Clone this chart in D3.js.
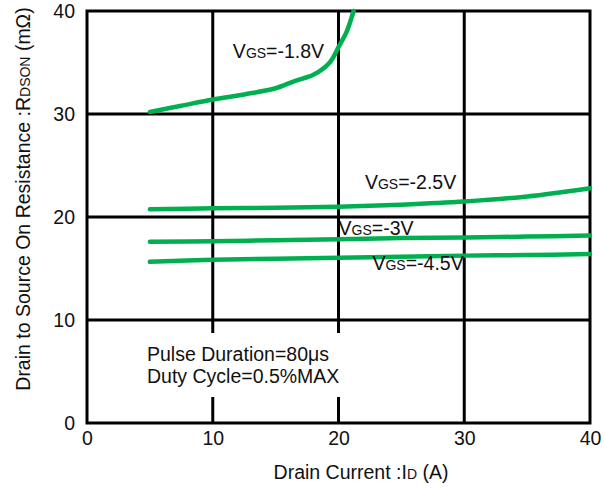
<!DOCTYPE html>
<html>
<head>
<meta charset="utf-8">
<script src="https://cdn.jsdelivr.net/npm/d3@7"></script>
<style>
  body { margin: 0; background: #fff; }
  svg text { font-family: "Liberation Sans", Arial, sans-serif; fill: #111; }
</style>
</head>
<body>
<svg id="chart" width="605" height="488"></svg>
<script>
// values
const xTicks = [0, 10, 20, 30, 40];
const yTicks = [0, 10, 20, 30, 40];

const id18 = [5, 7.5, 10, 12.5, 15, 16.5, 18, 19.3, 20, 20.65, 21.2];
const r18 = [30.2, 30.8, 31.4, 31.9, 32.5, 33.2, 33.8, 35.0, 36.5, 38.0, 40];

const idRest = [5, 10, 15, 20, 25, 30, 35, 40];
const r25 = [20.75, 20.85, 20.9, 21.0, 21.2, 21.5, 22.0, 22.8];
const r30 = [17.6, 17.65, 17.75, 17.85, 17.95, 18.0, 18.1, 18.2];
const r45 = [15.65, 15.85, 15.95, 16.05, 16.15, 16.25, 16.3, 16.4];

const curveNames = ["-1.8V", "-2.5V", "-3V", "-4.5V"];
// label anchor points, in data units
const labelX = [11.6, 22.1, 20.0, 22.7];
const labelY = [35.4, 22.7, 18.25, 14.85];

const svg = d3.select('#chart');
const plotL = 87, plotR = 590, plotT = 11, plotB = 423;
const fontSize = 19.5, subSize = 14;

const x = d3.scaleLinear().domain([0, 40]).range([plotL, plotR]);
const y = d3.scaleLinear().domain([0, 40]).range([plotB, plotT]);

// grid
const grid = svg.append('g');
grid.selectAll('line.h')
    .data(yTicks.filter(d => d > 0 && d < 40))
    .join('line')
    .attr('x1', plotL).attr('x2', plotR)
    .attr('y1', d => y(d)).attr('y2', d => y(d))
    .attr('stroke', '#000').attr('stroke-width', 3);
grid.selectAll('line.v')
    .data(xTicks.filter(d => d > 0 && d < 40))
    .join('line')
    .attr('y1', plotT).attr('y2', plotB)
    .attr('x1', d => x(d)).attr('x2', d => x(d))
    .attr('stroke', '#000').attr('stroke-width', 3);

// blank box behind the note
svg.append('rect')
    .attr('x', 140).attr('y', 333).attr('width', 220).attr('height', 64)
    .attr('fill', '#fff');

svg.append('rect')
    .attr('x', plotL).attr('y', plotT)
    .attr('width', plotR - plotL).attr('height', plotB - plotT)
    .attr('fill', 'none').attr('stroke', '#000').attr('stroke-width', 3);

// tick labels
svg.append('g')
    .attr('transform', `translate(0,${plotB + 22})`)
    .call(d3.axisBottom(x).tickValues(xTicks).tickSize(0).tickPadding(0))
    .call(g => g.select('.domain').remove())
    .call(g => g.selectAll('text').attr('font-size', fontSize).attr('dy', 0)
        .attr('font-family', '"Liberation Sans", Arial, sans-serif').attr('fill', '#111'));

svg.append('g')
    .attr('transform', `translate(${plotL - 12},0)`)
    .call(d3.axisLeft(y).tickValues(yTicks).tickSize(0).tickPadding(0))
    .call(g => g.select('.domain').remove())
    .call(g => g.selectAll('text').attr('font-size', fontSize)
        .attr('font-family', '"Liberation Sans", Arial, sans-serif').attr('fill', '#111'));

// curves
const line = d3.line()
    .x(d => x(d[0]))
    .y(d => y(d[1]))
    .curve(d3.curveCatmullRom.alpha(0.5));

const series = [
    d3.zip(id18, r18),
    d3.zip(idRest, r25),
    d3.zip(idRest, r30),
    d3.zip(idRest, r45)
];

svg.append('g')
    .selectAll('path')
    .data(series)
    .join('path')
    .attr('d', line)
    .attr('fill', 'none')
    .attr('stroke', '#00b050')
    .attr('stroke-width', 4.5)
    .attr('stroke-linecap', 'round');

// curve labels
const lbl = svg.append('g')
    .selectAll('text')
    .data(curveNames)
    .join('text')
    .attr('x', (d, i) => x(labelX[i]))
    .attr('y', (d, i) => y(labelY[i]))
    .attr('font-size', fontSize);
lbl.append('tspan').text('V');
lbl.append('tspan').attr('font-size', subSize).text('GS');
lbl.append('tspan').text(d => '=' + d);

// note
const note = svg.append('text').attr('x', 147).attr('y', 361).attr('font-size', fontSize);
note.append('tspan').text('Pulse Duration=80μs');
note.append('tspan').attr('x', 147).attr('dy', 22).text('Duty Cycle=0.5%MAX');

// axis titles
const xt = svg.append('text')
    .attr('x', 361).attr('y', 479)
    .attr('text-anchor', 'middle')
    .attr('font-size', fontSize);
xt.append('tspan').text('Drain Current :I');
xt.append('tspan').attr('font-size', subSize).text('D');
xt.append('tspan').text(' (A)');

const yt = svg.append('text')
    .attr('transform', 'translate(30,199) rotate(-90)')
    .attr('text-anchor', 'middle')
    .attr('font-size', fontSize);
yt.append('tspan').text('Drain to Source On Resistance :R');
yt.append('tspan').attr('font-size', subSize).text('DSON');
yt.append('tspan').text(' (mΩ)');
</script>
</body>
</html>
